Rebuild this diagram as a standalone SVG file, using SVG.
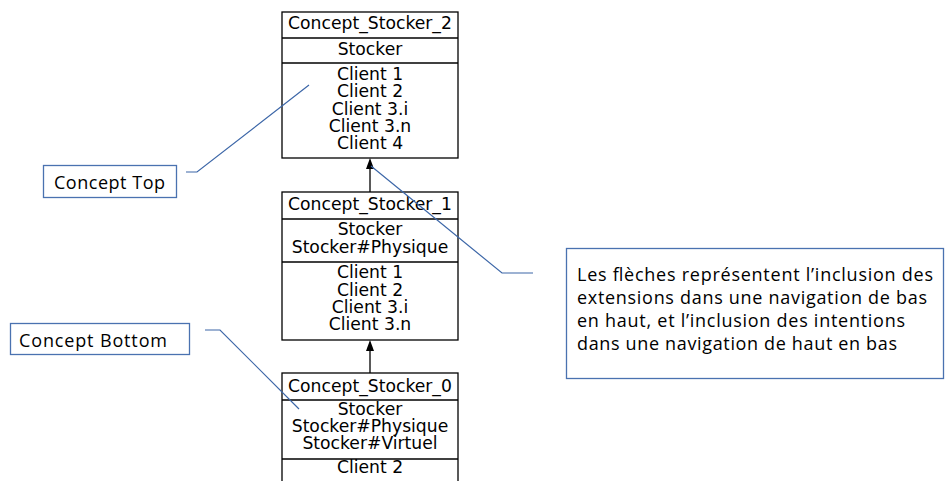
<svg xmlns="http://www.w3.org/2000/svg" width="945" height="481" viewBox="0 0 945 481">
<style>
.box{fill:#fff;stroke:#000;stroke-width:1.3}
.sep{stroke:#000;stroke-width:1.3}
.t{font-family:"DejaVu Sans",sans-serif;font-size:17.2px;fill:#000;text-anchor:middle}
.cbox{fill:#fff;stroke:#4a72b0;stroke-width:1.3}
.ct{font-family:"Open Sans",Lato,sans-serif;font-size:18px;fill:#000}
.lead{fill:none;stroke:#3d67a8;stroke-width:1.2}
.arr{stroke:#000;stroke-width:1.3;fill:none}
</style>
<rect width="945" height="481" fill="#fff"/>
<g id="Concept_Stocker_2">
<rect class="box" x="282" y="12" width="176" height="146"/>
<line class="sep" x1="282" y1="38" x2="458" y2="38"/>
<line class="sep" x1="282" y1="63" x2="458" y2="63"/>
<text class="t" x="370" y="29">Concept_Stocker_2</text>
<text class="t" x="370" y="55">Stocker</text>
<text class="t" x="370" y="80">Client 1</text>
<text class="t" x="370" y="97">Client 2</text>
<text class="t" x="370" y="114.5">Client 3.i</text>
<text class="t" x="370" y="132">Client 3.n</text>
<text class="t" x="370" y="149">Client 4</text>
</g>
<g id="Concept_Stocker_1">
<rect class="box" x="282" y="192" width="176" height="148"/>
<line class="sep" x1="282" y1="219" x2="458" y2="219"/>
<line class="sep" x1="282" y1="262" x2="458" y2="262"/>
<text class="t" x="370" y="210">Concept_Stocker_1</text>
<text class="t" x="370" y="235">Stocker</text>
<text class="t" x="370" y="253">Stocker#Physique</text>
<text class="t" x="370" y="278">Client 1</text>
<text class="t" x="370" y="296">Client 2</text>
<text class="t" x="370" y="313">Client 3.i</text>
<text class="t" x="370" y="330">Client 3.n</text>
</g>
<g id="Concept_Stocker_0">
<rect class="box" x="282" y="373" width="176" height="120"/>
<line class="sep" x1="282" y1="400" x2="458" y2="400"/>
<line class="sep" x1="282" y1="459" x2="458" y2="459"/>
<text class="t" x="370" y="392">Concept_Stocker_0</text>
<text class="t" x="370" y="415">Stocker</text>
<text class="t" x="370" y="432">Stocker#Physique</text>
<text class="t" x="370" y="449">Stocker#Virtuel</text>
<text class="t" x="370" y="473">Client 2</text>
</g>
<g id="connectors">
<line class="arr" x1="370" y1="192" x2="370" y2="168"/>
<polygon points="370,158 374,169 366,169" fill="#000"/>
<line class="arr" x1="370" y1="373" x2="370" y2="350"/>
<polygon points="370,340 374,351 366,351" fill="#000"/>
</g>
<g id="callout_top">
<rect class="cbox" x="43.5" y="165.5" width="133" height="32"/>
<text class="ct" x="54" y="189" textLength="111">Concept Top</text>
<polyline class="lead" points="186,172 197,172 309,85"/>
</g>
<g id="callout_bottom">
<rect class="cbox" x="10.5" y="323.5" width="179" height="31"/>
<text class="ct" x="19" y="347" textLength="148">Concept Bottom</text>
<polyline class="lead" points="205,330 220,330 299,409"/>
</g>
<g id="callout_right">
<rect class="cbox" x="566.5" y="248.5" width="377" height="130"/>
<text class="ct" x="577" y="281" textLength="356">Les flèches représentent l’inclusion des</text>
<text class="ct" x="577" y="304" textLength="350">extensions dans une navigation de bas</text>
<text class="ct" x="577" y="327" textLength="328">en haut, et l’inclusion des intentions</text>
<text class="ct" x="577" y="350" textLength="320">dans une navigation de haut en bas</text>
<polyline class="lead" points="533,273 502,273 371,166"/>
</g>
</svg>
